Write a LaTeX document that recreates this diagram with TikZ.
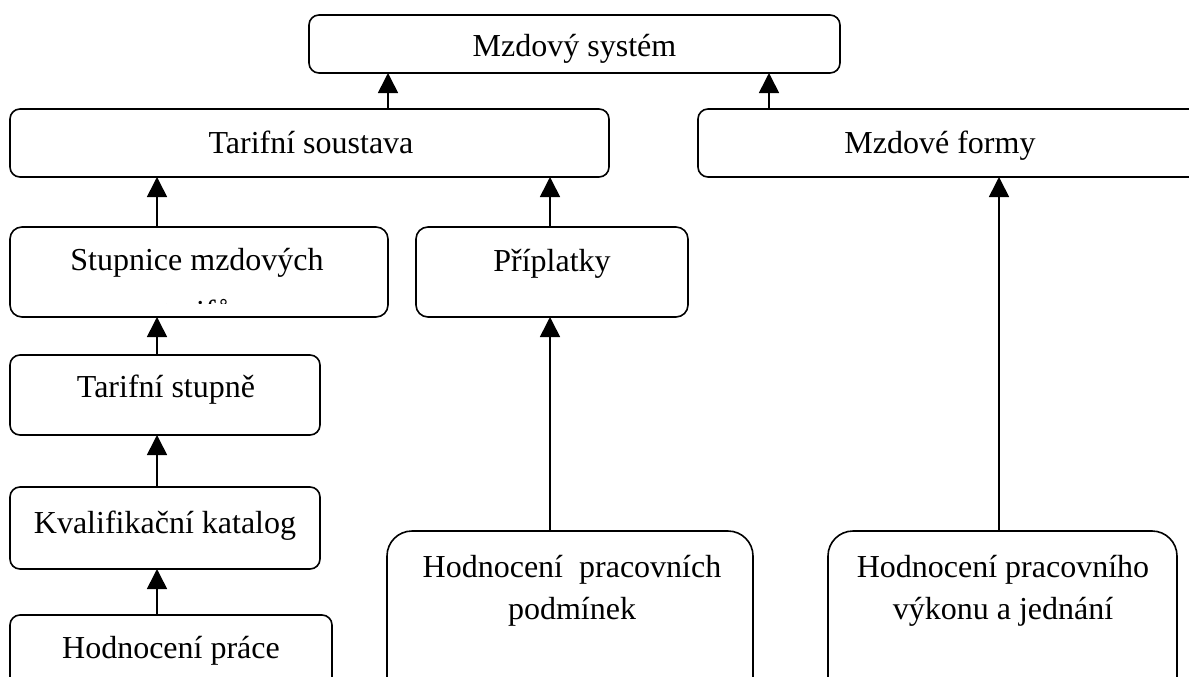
\documentclass[tikz,border=0pt]{standalone}
\usepackage{fontspec}
\setmainfont{Liberation Serif}
\usetikzlibrary{arrows.meta}
\begin{document}
\begin{tikzpicture}[x=1pt,y=-1pt,
  box/.style={draw, line width=1.6pt, rounded corners=10pt, inner sep=0pt, outer sep=0pt},
  bigbox/.style={box, rounded corners=25pt},
  txt/.style={font=\fontsize{32}{41}\selectfont, inner sep=0pt, anchor=base},
  arr/.style={line width=1.6pt, -{Triangle[width=20pt,length=20pt]}}]
\useasboundingbox (0,0) rectangle (1189,677);
\clip (0,0) rectangle (1189,677);
% boxes
\node[box, minimum width=531pt, minimum height=58pt] (mzd) at (574.5,44) {};
\node[box, minimum width=599pt, minimum height=68pt] (tar) at (309.5,143) {};
\node[box, minimum width=507pt, minimum height=68pt] (frm) at (951.5,143) {};
\node[box, rounded corners=12pt, minimum width=378pt, minimum height=90pt] (stu) at (199,272) {};
\node[box, rounded corners=12pt, minimum width=272pt, minimum height=90pt] (pri) at (552,272) {};
\node[box, minimum width=310pt, minimum height=80pt] (tst) at (165,395) {};
\node[box, minimum width=310pt, minimum height=82pt] (kva) at (165,528) {};
\node[box, minimum width=322pt, minimum height=85pt] (hpr) at (171,657.5) {};
\node[bigbox, minimum width=366pt, minimum height=189pt] (hpp) at (570,625.5) {};
\node[bigbox, minimum width=349pt, minimum height=189pt] (hvy) at (1002.5,625.5) {};
% texts
\node[txt] (tmzd) at (574.5,57) {Mzdový systém};
\node[txt] (ttar) at (311,153) {Tarifní soustava};
\node[txt] (tfrm) at (940,153) {Mzdové formy};
\node[txt] (tstu) at (197,270) {Stupnice mzdových};
\begin{scope}
\clip (10,227) rectangle (388,303);
\node[txt] (tstu2) at (197,322) {tarifů};
\end{scope}
\node[txt] (tpri) at (552,271) {Příplatky};
\node[txt] (ttst) at (166,397) {Tarifní stupně};
\node[txt] (tkva) at (165,533) {Kvalifikační katalog};
\node[txt] (thpr) at (171,658) {Hodnocení práce};
\node[txt] (thpp1) at (572,577) {Hodnocení~ pracovních};
\node[txt] (thpp2) at (572,619) {podmínek};
\node[txt] (thvy1) at (1003,577) {Hodnocení pracovního};
\node[txt] (thvy2) at (1003,619) {výkonu a jednání};
% arrow columns
\coordinate (c1) at (388,0);
\coordinate (c2) at (769,0);
\coordinate (c3) at (157,0);
\coordinate (c4) at (550,0);
\coordinate (c5) at (999,0);
% arrows
\draw[arr] (tar.north -| c1) -- (mzd.south -| c1);
\draw[arr] (frm.north -| c2) -- (mzd.south -| c2);
\draw[arr] (stu.north -| c3) -- (tar.south -| c3);
\draw[arr] (pri.north -| c4) -- (tar.south -| c4);
\draw[arr] (tst.north -| c3) -- (stu.south -| c3);
\draw[arr] (kva.north -| c3) -- (tst.south -| c3);
\draw[arr] (hpr.north -| c3) -- (kva.south -| c3);
\draw[arr] (hpp.north -| c4) -- (pri.south -| c4);
\draw[arr] (hvy.north -| c5) -- (frm.south -| c5);
\end{tikzpicture}
\end{document}
